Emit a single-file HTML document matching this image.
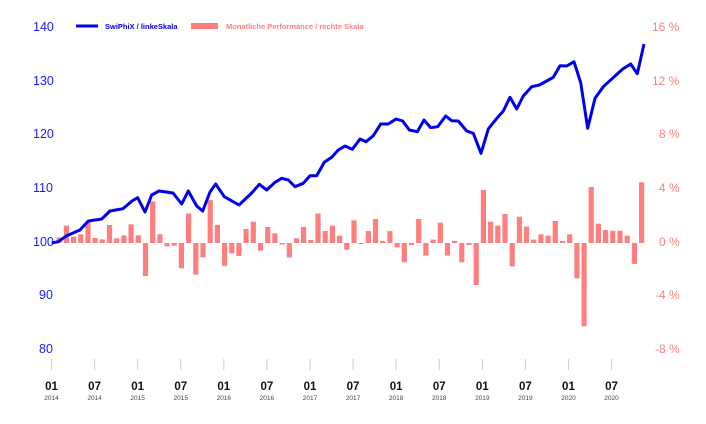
<!DOCTYPE html>
<html><head><meta charset="utf-8"><style>
html,body{margin:0;padding:0;background:#fff;}
svg{display:block;font-family:"Liberation Sans",sans-serif;}
</style></head><body>
<svg id="c" width="706" height="424" viewBox="0 0 706 424" xmlns="http://www.w3.org/2000/svg">
<g font-size="12.5" fill="#1a1aff">
<text x="33" y="31">140</text><text x="33" y="85">130</text><text x="33" y="138">120</text>
<text x="33" y="192">110</text><text x="33" y="246">100</text><text x="39" y="299">90</text><text x="39" y="353">80</text>
</g>
<g font-size="12" fill="#ff7f7f">
<text x="652" y="31">16 %</text><text x="652" y="85">12 %</text><text x="659" y="138">8 %</text>
<text x="659" y="192">4 %</text><text x="659" y="246">0 %</text><text x="655" y="299">-4 %</text><text x="655" y="353">-8 %</text>
</g>
<line x1="76" y1="26" x2="98" y2="26" stroke="#0000ee" stroke-width="3"/>
<text x="105" y="29" font-size="7.5" font-weight="bold" fill="#0000ee">SwiPhiX / linkeSkala</text>
<rect x="191" y="23" width="27" height="6" fill="#ff7f7f"/>
<text x="226" y="29" font-size="7.5" font-weight="bold" fill="#ff8080">Monatliche Performance / rechte Skala</text>
<g id="bars" fill="#ff7f7f"></g>
<g id="ticks"></g>
<polyline fill="none" stroke="#0000ee" stroke-width="3" stroke-linejoin="round" points="51.7,243 58.3,241.7 66.7,235.7 80,230 88.3,221 101.7,219 110,211 123,208.7 132,201 137.7,197.7 145,212 151.7,195 159,191 173,193 181.7,204 188.3,191 196.7,206 202.7,211 210,192 215.7,184 224.3,196.7 239,205 251.7,193 259.3,184.3 266.7,190 275,182.3 281.7,178.3 288.3,180 295,186.7 303.3,183.3 310,175.7 316.7,175.7 324.3,162.3 331.7,157.3 338.3,150 345,146 352.3,149.3 360,139 366,141.7 373.3,135.7 380.7,124 388.3,124 396,119 402.7,121 409.3,130 417.3,131.7 424,120 430.7,127.7 437.7,126.7 445.7,116 451.7,120.7 458.3,121 466.7,131 473.3,133.3 481,153.3 488.3,129 496,119.3 503.3,111 510,97.3 516.7,109 523.3,96 531.7,86.7 539.3,85 546.7,81 553.3,77.3 560,65.7 566.7,66 574,61.7 580.7,82.7 587.7,128.3 595,98.3 603.3,86.7 622.7,69 630.7,64 637.3,73.7 644,44"/>
</svg>
<script>
var p=[0.42,1.29,0.47,0.65,1.54,0.37,0.27,1.34,0.35,0.57,1.39,0.57,-2.46,3.1,0.65,-0.25,-0.2,-1.89,2.2,-2.36,-1.07,3.2,1.34,-1.71,-0.77,-0.97,1.04,1.59,-0.57,1.19,0.72,-0.12,-1.07,0.35,1.19,0.22,2.2,0.89,1.29,0.55,-0.5,1.69,
-0.07,0.89,1.79,0.15,0.89,-0.32,-1.44,-0.15,1.79,-0.94,0.25,1.51,-0.94,0.15,-1.44,-0.15,-3.13,3.96,1.59,1.29,2.16,-1.74,1.96,1.22,0.25,0.65,0.55,1.64,0.15,0.65,-2.63,-6.2,4.17,1.44,0.97,0.92,0.92,0.55,-1.56,4.52];
var ns="http://www.w3.org/2000/svg",g=document.getElementById("bars"),s="";
for(var i=0;i<p.length;i++){var x=52+(i+1)*7.19,h=Math.abs(p[i])*13.42,y=p[i]>0?243-h:243;
s+='<rect x="'+(x-2.6).toFixed(1)+'" y="'+y.toFixed(1)+'" width="5.2" height="'+Math.max(h,1).toFixed(1)+'"/>';}
g.innerHTML=s;
var t="",yrs=[2014,2014,2015,2015,2016,2016,2017,2017,2018,2018,2019,2019,2020,2020];
for(var k=0;k<14;k++){var x=51.5+k*43.08;
t+='<line x1="'+x+'" y1="359" x2="'+x+'" y2="370" stroke="#ccc" stroke-width="1"/>';
t+='<text x="'+x+'" y="390" text-anchor="middle" font-size="11.5" font-weight="bold" fill="#111">'+(k%2?"07":"01")+'</text>';
t+='<text x="'+x+'" y="400" text-anchor="middle" font-size="6.5" fill="#444">'+yrs[k]+'</text>';}
document.getElementById("ticks").innerHTML=t;
</script>
</body></html>
